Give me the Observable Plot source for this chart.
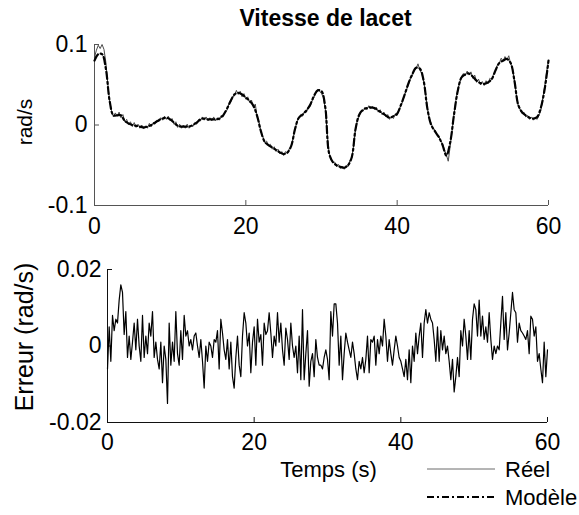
<!DOCTYPE html>
<html>
<head>
<meta charset="utf-8">
<script src="https://cdn.jsdelivr.net/npm/d3@7"></script>
<script src="https://cdn.jsdelivr.net/npm/@observablehq/plot@0.6"></script>
<style>
  html, body { margin: 0; padding: 0; background: #fff; }
  #wrap { position: relative; width: 579px; height: 515px; overflow: hidden; background: #fff;
          font-family: "Liberation Sans", Arial, Helvetica, sans-serif; }
  #wrap svg { position: absolute; left: 0; overflow: visible; }
  #wrap g[aria-label$="tick label"] { font-size: 23px !important; font-family: "Liberation Sans", Arial, sans-serif !important; }
</style>
</head>
<body>
<div id="wrap"></div>
<script>
// ---------- data ----------
const xTicks = [0, 20, 40, 60];
const topYTicks = [-0.1, 0, 0.1];
const botYTicks = [-0.02, 0, 0.02];
const title = "Vitesse de lacet";
const topYLabel = "rad/s";
const botYLabel = "Erreur (rad/s)";
const xLabel = "Temps (s)";
const seriesNames = ["Réel", "Modèle"];
const timeEnd = 60;

const modelStep = 0.5;
const model = [
  0.080, 0.088, 0.088, 0.070, 0.030, 0.012, 0.012, 0.012, 0.005, 0.002,
  0.000, -0.001, -0.002, -0.003, -0.002, 0.000, 0.003, 0.006, 0.008, 0.009,
  0.007, 0.003, -0.001, -0.002, -0.002, -0.002, 0.000, 0.003, 0.007, 0.008,
  0.007, 0.007, 0.007, 0.008, 0.012, 0.020, 0.030, 0.038, 0.040, 0.038,
  0.034, 0.030, 0.024, 0.011, -0.008, -0.021, -0.025, -0.028, -0.031, -0.034,
  -0.036, -0.034, -0.026, -0.005, 0.009, 0.013, 0.018, 0.025, 0.036, 0.043,
  0.042, 0.022, -0.035, -0.046, -0.050, -0.052, -0.053, -0.050, -0.040, -0.005,
  0.013, 0.019, 0.021, 0.022, 0.021, 0.018, 0.015, 0.012, 0.009, 0.011,
  0.014, 0.025, 0.038, 0.052, 0.063, 0.071, 0.070, 0.055, 0.020, 0.000,
  -0.008, -0.015, -0.025, -0.038, -0.022, 0.012, 0.042, 0.059, 0.063, 0.064,
  0.060, 0.055, 0.052, 0.051, 0.053, 0.057, 0.068, 0.077, 0.080, 0.082,
  0.077, 0.055, 0.025, 0.016, 0.012, 0.009, 0.008, 0.010, 0.022, 0.045,
  0.080
];

const realStep = 0.25;
const real = [
  0.084, 0.093, 0.099, 0.095, 0.100, 0.094, 0.078, 0.052,
  0.030, 0.018, 0.010, 0.015, 0.011, 0.016, 0.009, 0.013,
  0.004, 0.007, 0.000, 0.004, -0.002, 0.003, -0.003, 0.001,
  -0.004, 0.000, -0.005, -0.001, -0.004, 0.002, -0.002, 0.003,
  0.001, 0.006, 0.004, 0.009, 0.006, 0.011, 0.007, 0.011,
  0.005, 0.008, 0.001, 0.004, -0.003, 0.001, -0.004, 0.000,
  -0.004, 0.001, -0.004, 0.000, -0.002, 0.003, 0.001, 0.006,
  0.005, 0.010, 0.006, 0.010, 0.005, 0.009, 0.005, 0.010,
  0.005, 0.009, 0.006, 0.012, 0.010, 0.016, 0.018, 0.026,
  0.028, 0.035, 0.036, 0.043, 0.038, 0.042, 0.035, 0.039,
  0.032, 0.035, 0.028, 0.031, 0.022, 0.026, 0.010, 0.004,
  -0.009, -0.014, -0.022, -0.020, -0.026, -0.024, -0.030, -0.027,
  -0.033, -0.030, -0.036, -0.033, -0.038, -0.033, -0.036, -0.029,
  -0.027, -0.016, -0.006, 0.004, 0.008, 0.013, 0.011, 0.017,
  0.016, 0.022, 0.023, 0.030, 0.034, 0.040, 0.044, 0.042,
  0.039, 0.034, 0.020, -0.010, -0.034, -0.042, -0.047, -0.046,
  -0.052, -0.049, -0.054, -0.051, -0.055, -0.050, -0.052, -0.044,
  -0.041, -0.025, -0.006, 0.006, 0.011, 0.018, 0.017, 0.022,
  0.019, 0.024, 0.020, 0.023, 0.019, 0.022, 0.016, 0.019,
  0.013, 0.016, 0.010, 0.013, 0.007, 0.011, 0.008, 0.014,
  0.012, 0.019, 0.024, 0.030, 0.038, 0.044, 0.050, 0.058,
  0.061, 0.068, 0.070, 0.076, 0.068, 0.064, 0.054, 0.040,
  0.021, 0.008, 0.002, -0.004, -0.006, -0.012, -0.013, -0.020,
  -0.023, -0.031, -0.037, -0.045, -0.027, -0.008, 0.013, 0.030,
  0.044, 0.052, 0.060, 0.064, 0.061, 0.067, 0.062, 0.066,
  0.058, 0.062, 0.053, 0.057, 0.050, 0.054, 0.049, 0.055,
  0.051, 0.058, 0.056, 0.064, 0.067, 0.075, 0.077, 0.083,
  0.079, 0.085, 0.081, 0.086, 0.076, 0.070, 0.055, 0.038,
  0.024, 0.019, 0.014, 0.016, 0.010, 0.012, 0.007, 0.010,
  0.006, 0.009, 0.007, 0.012, 0.018, 0.034, 0.048, 0.066,
  0.080
];

// error samples, evenly spaced over 0..60 s
const erreur = [
  -0.006, 0.005, -0.004, 0.008, 0.004, 0.007, 0.006, 0.012, 0.016, 0.014,
  0.003, 0.009, -0.003, 0.0026, -0.0035, 0.001, 0.006, -0.001, 0.007, 0,
  -0.004, 0.008, -0.003, 0.0026, -0.002, 0.006, 0.0026, 0.009, -0.003, 0.001,
  -0.0035, -0.006, 0.001, -0.0096, 0, -0.0035, -0.015, 0.006, -0.005, 0.001,
  -0.004, 0.009, -0.002, -0.005, 0.004, -0.0035, 0.008, 0.0026, 0.004, 0,
  0.0017, -0.001, 0.0026, 0.0034, 0, -0.003, 0.0017, -0.004, -0.011, 0,
  -0.004, 0.001,
  0, -0.003, 0.0017, 0.001, 0.004, -0.006, 0.007, 0.0034, -0.001, -0.0035,
  0.0017, -0.006, 0.001, -0.008, -0.011, -0.003, 0.0026, -0.005, -0.008, 0.0026,
  0.0087, 0.006, 0, 0.0034, -0.007, 0.001, 0.005, -0.005, 0.007, 0.001,
  0.003, -0.005, 0.006, 0.003, 0.004, 0.0087, 0.0034, -0.003, 0.0026, 0,
  0.0087, 0.001, 0.006, -0.001, -0.005, 0.0047, 0.0017, -0.0035, 0.006, 0,
  -0.003, 0, -0.007, 0.0026, -0.0088, 0.0095, -0.0088, -0.002, 0.004, -0.0105,
  -0.004, -0.002, -0.008, 0.0017, -0.003, -0.005,
  -0.005, -0.006, -0.003, -0.001, -0.0035, -0.0088, 0.009, 0.0026, 0.011, 0.011,
  0.006, -0.005, 0.0026, -0.0088, -0.002, 0.0034, 0.001, -0.001, -0.003, 0.001,
  -0.002, -0.006, -0.0088, -0.004, -0.006, -0.003, -0.007, -0.0035, 0.0026, -0.007,
  0.0017, 0.001, 0.0026, -0.005, 0.0017, -0.002, 0.0026, 0, 0.007, 0.0026,
  -0.004, 0.0017, -0.002, -0.005, -0.001, 0.0026, 0, -0.003, -0.004, -0.006,
  -0.008, -0.0035, -0.0088, -0.001, -0.0096, 0, -0.004, 0.0034, -0.002, 0.0026,
  0.006, -0.003, 0.006, 0.0095, 0.006, 0.0087,
  0.007, 0.006, 0.0017, -0.004, 0.005, -0.004, 0.004, -0.001, 0.0026, -0.002,
  0, -0.004, -0.0088, -0.0035, -0.012, -0.008, -0.003, -0.008, 0.004, 0,
  0.007, 0.0026, -0.0035, 0.004, -0.0035, 0.007, 0.011, 0.0095, 0.0026, 0.012,
  0.0026, 0.0078, 0.0017, 0.005, 0.001, 0.0087, 0.0017, -0.0035, 0, -0.002,
  0, -0.001, 0.006, 0.013, 0.0017, 0.0087, -0.001, 0.0034, 0.0087, 0.014,
  0.0095, 0.0087, 0.001, 0.006, 0.004, 0.0034, 0.0026, 0.0017, 0.004, -0.002,
  0.0078, 0.007, 0.0026, 0.005, -0.004, -0.002, -0.006, -0.0096, 0.001, -0.008,
  -0.001
];

// ---------- tables ----------
const modelData = model.map((v, i) => ({t: i * modelStep, v}));
const realData = real.map((v, i) => ({t: i * realStep, v}));
const errStep = timeEnd / (erreur.length - 1);
const errData = erreur.map((v, i) => ({t: i * errStep, v}));

const FONT = '"Liberation Sans", Arial, Helvetica, sans-serif';
const fmt = d => String(d);
const wrap = document.getElementById("wrap");
const TICK_FS = 23;

// ---------- top panel ----------
const topPlot = Plot.plot({
  width: 579, height: 235,
  marginTop: 44, marginBottom: 30, marginLeft: 94, marginRight: 31,
  style: {fontFamily: FONT, background: "transparent", color: "#000"},
  x: {domain: [0, timeEnd]},
  y: {domain: [topYTicks[0], topYTicks[topYTicks.length - 1]]},
  marks: [
    Plot.ruleX([xTicks[0]], {stroke: "#555", strokeWidth: 1}),
    Plot.ruleY([topYTicks[0]], {stroke: "#555", strokeWidth: 1}),
    Plot.axisX({ticks: xTicks, tickSize: -5, tickPadding: 17, stroke: "#555", fontSize: TICK_FS, label: null, tickFormat: fmt}),
    Plot.axisY({ticks: topYTicks, tickSize: -5, tickPadding: 12, stroke: "#555", fontSize: TICK_FS, label: null, tickFormat: fmt}),
    Plot.line(realData, {x: "t", y: "v", stroke: "#4a4a4a", strokeWidth: 1}),
    Plot.line(modelData, {x: "t", y: "v", stroke: "#000", strokeWidth: 2.2, strokeDasharray: "7,3,2,3", curve: "catmull-rom"}),
    Plot.text([title], {text: d => d, frameAnchor: "top", lineAnchor: "middle", textAnchor: "middle", dy: -26, dx: 4, fontSize: 23, fontWeight: "bold", fill: "#000"}),
    Plot.text([topYLabel], {text: d => d, frameAnchor: "left", textAnchor: "middle", lineAnchor: "middle", rotate: -90, dx: -69, dy: -3, fontSize: 21, fill: "#000"})
  ]
});
topPlot.style.top = "0px";
topPlot.style.overflow = "visible";
wrap.appendChild(topPlot);

// ---------- bottom panel ----------
const botPlot = Plot.plot({
  width: 579, height: 280,
  marginTop: 34, marginBottom: 93, marginLeft: 107, marginRight: 32,
  style: {fontFamily: FONT, background: "transparent", color: "#000"},
  x: {domain: [0, timeEnd]},
  y: {domain: [botYTicks[0], botYTicks[botYTicks.length - 1]]},
  marks: [
    Plot.ruleX([xTicks[0]], {stroke: "#111", strokeWidth: 1}),
    Plot.ruleY([botYTicks[0]], {stroke: "#111", strokeWidth: 1}),
    Plot.axisX({ticks: xTicks, tickSize: -5, tickPadding: 16, stroke: "#111", fontSize: TICK_FS, label: null, tickFormat: fmt}),
    Plot.axisY({ticks: botYTicks, tickSize: -5, tickPadding: 11, stroke: "#111", fontSize: TICK_FS, label: null, tickFormat: fmt}),
    Plot.line(errData, {x: "t", y: "v", stroke: "#000", strokeWidth: 1.2}),
    Plot.text([botYLabel], {text: d => d, frameAnchor: "left", textAnchor: "middle", lineAnchor: "middle", rotate: -90, dx: -83, dy: -9, fontSize: 25, fill: "#000"}),
    Plot.text([xLabel], {text: d => d, frameAnchor: "bottom", textAnchor: "middle", lineAnchor: "middle", dy: 47, dx: 1, fontSize: 22, fill: "#000"})
  ]
});
botPlot.style.top = "235px";
botPlot.style.overflow = "visible";
wrap.appendChild(botPlot);

// ---------- legend ----------
const leg = d3.create("svg").attr("width", 159).attr("height", 60)
  .style("position", "absolute").style("left", "420px").style("top", "455px")
  .style("font-family", FONT);
const legStyles = [
  {stroke: "#6a6a6a", width: 1, dash: null},
  {stroke: "#000", width: 2.2, dash: "7,3,2,3"}
];
seriesNames.forEach((name, i) => {
  const y = 14 + i * 28;
  leg.append("line").attr("x1", 7).attr("x2", 75).attr("y1", y).attr("y2", y)
    .attr("stroke", legStyles[i].stroke).attr("stroke-width", legStyles[i].width)
    .attr("stroke-dasharray", legStyles[i].dash);
  leg.append("text").attr("x", 85).attr("y", y).attr("dy", "0.35em")
    .attr("font-size", 22).attr("fill", "#000").text(name);
});
wrap.appendChild(leg.node());
</script>
</body>
</html>
